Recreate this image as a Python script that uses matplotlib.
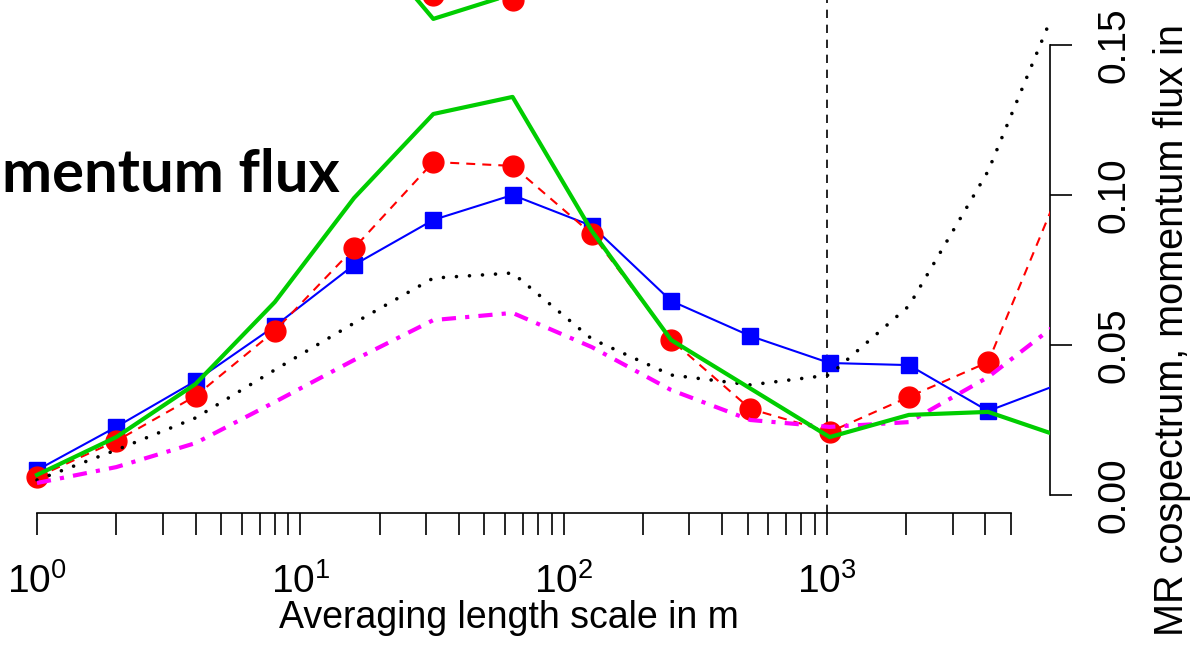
import matplotlib
matplotlib.use('Agg')
import matplotlib.pyplot as plt
import numpy as np

plt.rcParams['font.family'] = ['Liberation Sans', 'DejaVu Sans']
plt.rcParams['mathtext.fontset'] = 'custom'
plt.rcParams['mathtext.rm'] = 'Liberation Sans'

# averaging length scales (m) and MR cospectrum values
scale = [1, 2, 4, 8, 16, 32, 64, 128, 256, 512, 1024, 2048, 4096, 8192]
blue_sq = [0.0083, 0.0227, 0.038, 0.0563, 0.0767, 0.0917, 0.100, 0.0897,
           0.0647, 0.053, 0.044, 0.0433, 0.028, 0.038]
red_dots = [0.006, 0.018, 0.033, 0.0547, 0.0823, 0.111, 0.1097, 0.087,
            0.0517, 0.0287, 0.021, 0.0327, 0.0443, 0.108]
green = [0.0067, 0.0193, 0.037, 0.0643, 0.099, 0.127, 0.1327, 0.088,
         0.0517, 0.0355, 0.0193, 0.0267, 0.0277, 0.0187]
black_dot = [0.005, 0.015, 0.0257, 0.0417, 0.0573, 0.0723, 0.074, 0.052,
             0.040, 0.0367, 0.040, 0.063, 0.108, 0.172]
magenta = [0.004, 0.0093, 0.0173, 0.031, 0.045, 0.0583, 0.0607, 0.0493,
           0.035, 0.025, 0.0227, 0.0243, 0.0393, 0.0597]

# bits of the panel above that show at the top edge
upper_scale_g = [16, 32, 64]
upper_green = [0.19, 0.1587, 0.167]
upper_scale_r = [32, 64]
upper_red = [0.1667, 0.165]

W, H = 1196, 661
fig = plt.figure(figsize=(W / 100, H / 100), dpi=100)

# plot region like R: xlim c(1, 5000), ylim c(0, 0.15), 4% padding
dec = 263.3
lx = np.log10(5000)
x_lo, x_hi = -0.04 * lx, 1.04 * lx
left_px = 37 + x_lo * dec
width_px = (x_hi - x_lo) * dec
y_lo, y_hi = -0.006, 0.156
ax = fig.add_axes([left_px / W, (H - 513) / H, width_px / W, (y_hi - y_lo) * 3000 / H])
ax.set_xscale('log')
ax.set_xlim(10 ** x_lo, 10 ** x_hi)
ax.set_ylim(y_lo, y_hi)
ax.patch.set_visible(False)

ax.plot(scale, blue_sq, color='#0000FF', lw=1.5, marker='s', ms=12, zorder=3)
ax.plot(scale, red_dots, color='#FF0000', lw=1.5, ls=(0, (4.3, 3.4)),
        marker='o', ms=15, zorder=4)
ax.plot(scale, black_dot, color='black', lw=2.6, ls=(0, (0.01, 3.6)),
        dash_capstyle='round', zorder=5)
ax.plot(scale, magenta, color='#FF00FF', lw=3, ls=(0, (3.4, 2.2, 1.0, 2.2)), zorder=6)
ax.plot(scale, green, color='#00CD00', lw=3, zorder=7)

ax.plot(upper_scale_g, upper_green, color='#00CD00', lw=3, clip_on=False, zorder=7)
ax.plot(upper_scale_r, upper_red, color='#FF0000', ls='none', marker='o', ms=15,
        clip_on=False, zorder=4)

ax.plot([1000, 1000], [y_lo, 0.2], color='black', lw=1.2, ls=(0, (5, 4)),
        clip_on=False, zorder=2)

# axes, R style
for s in ['top', 'left']:
    ax.spines[s].set_visible(False)
ax.spines['bottom'].set_bounds(1, 5000)
ax.spines['right'].set_bounds(0, 0.15)
ax.spines['bottom'].set_linewidth(1.2)
ax.spines['right'].set_linewidth(1.2)

major = [1, 10, 100, 1000]
minor = [v * 10 ** k for k in range(4) for v in range(2, 10) if v * 10 ** k <= 5000]
ax.set_xticks(major)
ax.set_xticklabels([r'$\mathregular{10^{%d}}$' % k for k in range(4)])
ax.set_xticks(minor, minor=True)
ax.xaxis.set_minor_formatter(matplotlib.ticker.NullFormatter())
ax.tick_params(axis='x', which='both', direction='out', length=15.8, width=1.2,
               labelsize=28, pad=20)

ax.yaxis.tick_right()
ax.set_yticks([0, 0.05, 0.10, 0.15])
ax.set_yticklabels(['0.00', '0.05', '0.10', '0.15'])
ax.tick_params(axis='y', direction='out', length=15.8, width=1.2, labelsize=28,
               pad=18, labelrotation=90)
for t in ax.get_yticklabels():
    t.set_va('center')

fig.text(509 / W, 1 - 628 / H, 'Averaging length scale in m', ha='center',
         va='baseline', fontsize=27)
fig.text(1172 / W, 1 - 636 / H, 'MR cospectrum, momentum flux in', rotation=90,
         ha='center', va='bottom', fontsize=28.5)

fig.text(340 / W, 1 - 192 / H, 'mentum flux', ha='right', va='baseline',
         fontsize=43, fontweight='bold', family='Lato')

fig.savefig('out.png', dpi=100)
